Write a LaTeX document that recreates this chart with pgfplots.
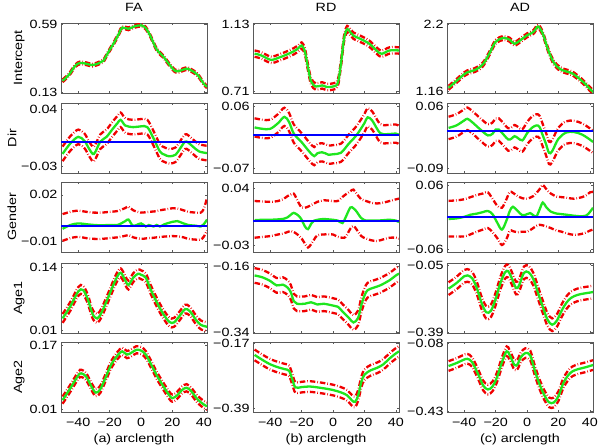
\documentclass[border=0pt]{standalone}
\usepackage{fontspec}
\setmainfont[FakeStretch=1.2]{Liberation Sans}
\usepackage{pgfplots}
\usepackage{pgfplotstable}
\pgfplotsset{compat=1.18}
\definecolor{mgreen}{RGB}{30,230,30}
\definecolor{mred}{RGB}{240,0,0}
\definecolor{mblue}{RGB}{0,0,255}

% ---------- data: x, estimate g, lower band lo, upper band hi ----------
\pgfplotstableread{
x g lo hi
-50 0.210 0.201 0.219
-46 0.250 0.241 0.259
-42 0.310 0.301 0.319
-39 0.330 0.321 0.339
-35 0.325 0.316 0.334
-31 0.316 0.307 0.325
-27 0.328 0.319 0.337
-24 0.345 0.336 0.354
-21 0.400 0.391 0.409
-17 0.470 0.461 0.479
-14 0.530 0.521 0.539
-12 0.568 0.559 0.577
-8 0.560 0.551 0.569
-4 0.577 0.568 0.586
0 0.583 0.574 0.592
3 0.565 0.556 0.574
6 0.510 0.501 0.519
10 0.420 0.411 0.429
14 0.375 0.366 0.384
18 0.320 0.311 0.329
22 0.275 0.266 0.284
26 0.282 0.273 0.291
29 0.292 0.283 0.301
32 0.280 0.271 0.289
36 0.250 0.241 0.259
40 0.190 0.181 0.199
42 0.170 0.161 0.179
}\Taa
\pgfplotstableread{
x g lo hi
-50 0.945 0.925 0.965
-46 0.935 0.915 0.955
-42 0.915 0.895 0.935
-39 0.905 0.885 0.925
-35 0.918 0.898 0.938
-30 0.937 0.917 0.957
-25 0.960 0.940 0.980
-22 0.980 0.960 1.000
-20 0.996 0.976 1.016
-18 0.960 0.940 0.980
-16 0.860 0.840 0.880
-14 0.770 0.750 0.790
-11 0.738 0.718 0.758
-7 0.745 0.725 0.765
-4 0.735 0.715 0.755
0 0.738 0.718 0.758
3 0.760 0.740 0.780
5 0.880 0.860 0.900
7 1.040 1.020 1.060
9 1.100 1.080 1.120
11 1.080 1.060 1.100
13 1.058 1.038 1.078
17 1.040 1.020 1.060
23 1.008 0.988 1.028
28 0.962 0.942 0.982
31 0.944 0.924 0.964
36 0.965 0.945 0.985
42 0.965 0.945 0.985
}\Tab
\pgfplotstableread{
x g lo hi
-50 1.220 1.190 1.250
-45 1.325 1.295 1.355
-40 1.430 1.400 1.460
-38 1.460 1.430 1.490
-35 1.480 1.450 1.510
-32 1.510 1.480 1.540
-28 1.585 1.555 1.615
-24 1.750 1.720 1.780
-20 1.930 1.900 1.960
-15 1.990 1.960 2.020
-11 1.960 1.930 1.990
-8 1.900 1.870 1.930
-4 1.960 1.930 1.990
0 2.030 2.000 2.060
4 2.080 2.050 2.110
7 2.165 2.135 2.195
10 2.055 2.025 2.085
13.5 1.800 1.770 1.830
17 1.610 1.580 1.640
21 1.510 1.480 1.540
25 1.472 1.442 1.502
29 1.440 1.410 1.470
35 1.326 1.296 1.356
41 1.180 1.150 1.210
42 1.165 1.135 1.195
}\Tac
\pgfplotstableread{
x g lo hi
-50 -0.015 -0.024 -0.006
-45 -0.002 -0.011 0.007
-40 0.006 -0.003 0.015
-36 0.001 -0.008 0.010
-33 -0.009 -0.018 0.000
-30 -0.015 -0.024 -0.006
-26 0.000 -0.009 0.009
-22 0.006 -0.003 0.015
-18 0.016 0.007 0.025
-15 0.023 0.014 0.032
-13 0.027 0.018 0.036
-10 0.020 0.011 0.029
-5 0.018 0.009 0.027
0 0.019 0.010 0.028
4 0.018 0.009 0.027
8 0.004 -0.005 0.013
12 -0.012 -0.021 -0.003
15 -0.016 -0.025 -0.007
18 -0.018 -0.027 -0.009
22 -0.016 -0.025 -0.007
25 -0.008 -0.017 0.001
28 0.000 -0.009 0.009
30 -0.001 -0.010 0.008
33 -0.006 -0.015 0.003
37 -0.012 -0.021 -0.003
42 -0.014 -0.023 -0.005
}\Tba
\pgfplotstableread{
x g lo hi
-50 0.016 -0.003 0.035
-45 0.013 -0.006 0.032
-40 0.013 -0.006 0.032
-35 0.025 0.006 0.044
-31 0.038 0.019 0.057
-28 0.027 0.008 0.046
-25 0.003 -0.016 0.022
-20 -0.015 -0.034 0.004
-15 -0.035 -0.054 -0.016
-12 -0.044 -0.063 -0.025
-10 -0.038 -0.057 -0.019
-7 -0.036 -0.055 -0.017
-5 -0.038 -0.057 -0.019
-3 -0.041 -0.060 -0.022
0 -0.040 -0.059 -0.021
5 -0.037 -0.056 -0.018
10 -0.018 -0.037 0.001
15 0.000 -0.019 0.019
20 0.025 0.006 0.044
22 0.037 0.018 0.056
25 0.030 0.011 0.049
30 0.004 -0.015 0.023
35 0.002 -0.017 0.021
40 0.003 -0.016 0.022
42 0.000 -0.019 0.019
}\Tbb
\pgfplotstableread{
x g lo hi
-50 0.008 -0.019 0.035
-45 0.014 -0.013 0.041
-40 0.026 -0.001 0.053
-38 0.030 0.003 0.057
-35 0.022 -0.005 0.049
-30 0.005 -0.022 0.032
-25 -0.010 -0.037 0.017
-22 -0.006 -0.033 0.021
-20 0.004 -0.023 0.031
-18 0.004 -0.023 0.031
-15 -0.008 -0.035 0.019
-12 -0.020 -0.047 0.007
-10 -0.018 -0.045 0.009
-8 -0.012 -0.039 0.015
-6 -0.016 -0.043 0.011
-3 -0.022 -0.049 0.005
0 -0.005 -0.032 0.022
3 0.008 -0.019 0.035
6 0.014 -0.013 0.041
8 0.010 -0.017 0.037
10 -0.010 -0.037 0.017
12 -0.030 -0.057 -0.003
14 -0.052 -0.079 -0.025
16 -0.048 -0.075 -0.021
20 -0.018 -0.045 0.009
25 -0.003 -0.030 0.024
30 -0.002 -0.029 0.025
35 -0.008 -0.035 0.019
40 -0.020 -0.047 0.007
42 -0.026 -0.053 0.001
}\Tbc
\pgfplotstableread{
x g lo hi
-50 -0.0020 -0.0098 0.0075
-45 0.0005 -0.0080 0.0090
-40 0.0015 -0.0072 0.0098
-35 0.0010 -0.0080 0.0090
-30 0.0005 -0.0085 0.0085
-25 0.0003 -0.0085 0.0085
-20 0.0005 -0.0080 0.0090
-15 0.0005 -0.0075 0.0095
-10 0.0030 -0.0065 0.0115
-8 0.0040 -0.0060 0.0124
-5 0.0000 -0.0075 0.0100
0 0.0015 -0.0085 0.0085
3 -0.0005 -0.0082 0.0088
5 0.0005 -0.0080 0.0090
8 -0.0005 -0.0078 0.0092
10 0.0005 -0.0075 0.0095
12 -0.0005 -0.0073 0.0100
15 0.0010 -0.0070 0.0105
20 0.0025 -0.0067 0.0113
23 0.0030 -0.0068 0.0112
27 0.0015 -0.0075 0.0100
30 0.0005 -0.0085 0.0090
35 0.0000 -0.0090 0.0085
38 -0.0005 -0.0090 0.0085
40 0.0010 -0.0070 0.0110
42 0.0040 -0.0030 0.0180
}\Tca
\pgfplotstableread{
x g lo hi
-50 0.0005 -0.021 0.024
-45 0.001 -0.020 0.0235
-40 0.001 -0.019 0.023
-35 0.0015 -0.017 0.024
-32 0.002 -0.016 0.026
-29 0.004 -0.014 0.030
-27 0.007 -0.0126 0.032
-25 0.0095 -0.014 0.033
-22 0.006 -0.018 0.022
-20 0.001 -0.022 0.016
-18 -0.007 -0.028 0.0157
-16 -0.0105 -0.033 0.017
-14 -0.004 -0.029 0.019
-12 0.000 -0.023 0.021
-10 0.001 -0.018 0.023
-6 0.002 -0.017 0.025
-3 0.0015 -0.0166 0.0245
0 0.001 -0.017 0.024
3 0.000 -0.020 0.024
6 -0.003 -0.021 0.029
8 0.004 -0.020 0.032
11 0.016 -0.010 0.036
13 0.015 -0.0066 0.038
15 0.011 -0.011 0.033
18 0.003 -0.019 0.026
21 0.000 -0.022 0.024
24 0.000 -0.024 0.022
28 0.000 -0.025 0.021
32 0.0005 -0.023 0.022
36 0.001 -0.021 0.024
40 0.000 -0.021 0.026
42 -0.002 -0.022 0.027
}\Tcb
\pgfplotstableread{
x g lo hi
-50 -0.003 -0.036 0.031
-45 -0.002 -0.036 0.032
-40 0.001 -0.036 0.034
-36 0.005 -0.032 0.038
-32 0.007 -0.027 0.042
-28 0.010 -0.023 0.045
-25 0.012 -0.020 0.047
-22 0.006 -0.028 0.035
-19 -0.010 -0.039 0.022
-16 -0.023 -0.052 0.018
-13 -0.005 -0.040 0.035
-11 0.012 -0.025 0.048
-9 0.020 -0.026 0.046
-6 0.012 -0.028 0.040
-3 0.004 -0.027 0.036
0 0.006 -0.027 0.035
2 0.008 -0.024 0.037
4 0.004 -0.020 0.040
6 0.002 -0.016 0.046
8 0.015 -0.014 0.053
10 0.028 -0.015 0.061
12 0.020 -0.017 0.054
15 0.011 -0.020 0.045
19 0.007 -0.025 0.039
22 0.006 -0.027 0.038
25 0.005 -0.030 0.037
30 0.003 -0.033 0.035
35 0.002 -0.031 0.038
38 0.004 -0.028 0.042
40 0.010 -0.025 0.047
42 0.018 -0.023 0.048
}\Tcc
\pgfplotstableread{
x g lo hi
-50 0.035 0.026 0.044
-45 0.060 0.051 0.069
-40 0.090 0.081 0.099
-37 0.093 0.084 0.102
-34 0.075 0.066 0.084
-31 0.045 0.036 0.054
-28 0.035 0.026 0.044
-25 0.048 0.039 0.057
-20 0.085 0.076 0.094
-16 0.115 0.106 0.124
-13 0.128 0.119 0.137
-10 0.112 0.103 0.121
-8 0.103 0.094 0.112
-5 0.118 0.109 0.127
-2 0.126 0.117 0.135
0 0.124 0.115 0.133
3 0.118 0.109 0.127
6 0.095 0.086 0.104
10 0.068 0.059 0.077
14 0.045 0.036 0.054
18 0.028 0.019 0.037
21 0.027 0.018 0.036
25 0.042 0.033 0.051
28 0.054 0.045 0.063
31 0.050 0.041 0.059
35 0.032 0.023 0.041
38 0.022 0.013 0.031
42 0.018 0.009 0.027
}\Tda
\pgfplotstableread{
x g lo hi
-50 -0.185 -0.205 -0.165
-45 -0.190 -0.210 -0.170
-40 -0.200 -0.220 -0.180
-36 -0.212 -0.232 -0.192
-32 -0.210 -0.230 -0.190
-29 -0.218 -0.238 -0.198
-27 -0.230 -0.250 -0.210
-25 -0.255 -0.275 -0.235
-23 -0.262 -0.282 -0.242
-18 -0.262 -0.282 -0.242
-14 -0.258 -0.278 -0.238
-10 -0.264 -0.284 -0.244
-6 -0.262 -0.282 -0.242
0 -0.267 -0.287 -0.247
3 -0.270 -0.290 -0.250
6 -0.283 -0.303 -0.263
10 -0.300 -0.320 -0.280
13 -0.313 -0.333 -0.293
16 -0.300 -0.320 -0.280
18 -0.265 -0.285 -0.245
20 -0.240 -0.260 -0.220
22 -0.225 -0.245 -0.205
26 -0.218 -0.238 -0.198
30 -0.212 -0.232 -0.192
36 -0.198 -0.218 -0.178
40 -0.185 -0.205 -0.165
42 -0.180 -0.200 -0.160
}\Tdb
\pgfplotstableread{
x g lo hi
-50 -0.168 -0.200 -0.136
-45 -0.140 -0.172 -0.108
-40 -0.105 -0.137 -0.073
-38 -0.101 -0.133 -0.069
-35 -0.115 -0.147 -0.083
-32 -0.165 -0.197 -0.133
-29 -0.240 -0.272 -0.208
-26 -0.288 -0.320 -0.256
-23 -0.280 -0.312 -0.248
-20 -0.220 -0.252 -0.188
-17 -0.140 -0.172 -0.108
-14 -0.085 -0.117 -0.053
-12 -0.080 -0.112 -0.048
-10 -0.110 -0.142 -0.078
-7 -0.165 -0.197 -0.133
-5 -0.150 -0.182 -0.118
-2 -0.088 -0.120 -0.056
1 -0.085 -0.117 -0.053
4 -0.120 -0.152 -0.088
7 -0.190 -0.222 -0.158
10 -0.260 -0.292 -0.228
13 -0.325 -0.357 -0.293
16 -0.351 -0.383 -0.319
19 -0.330 -0.362 -0.298
22 -0.280 -0.312 -0.248
25 -0.240 -0.272 -0.208
28 -0.215 -0.247 -0.183
32 -0.200 -0.232 -0.168
36 -0.193 -0.225 -0.161
40 -0.188 -0.220 -0.156
42 -0.185 -0.217 -0.153
}\Tdc
\pgfplotstableread{
x g lo hi
-50 0.033 0.024 0.042
-45 0.063 0.054 0.072
-40 0.095 0.086 0.104
-38 0.100 0.091 0.109
-35 0.092 0.083 0.101
-32 0.070 0.061 0.079
-29 0.052 0.043 0.061
-26 0.060 0.051 0.069
-22 0.095 0.086 0.104
-19 0.122 0.113 0.131
-15 0.145 0.136 0.154
-12 0.155 0.146 0.164
-9 0.147 0.138 0.156
-6 0.152 0.143 0.161
-3 0.159 0.150 0.168
0 0.157 0.148 0.166
3 0.147 0.138 0.156
7 0.118 0.109 0.127
10 0.095 0.086 0.104
14 0.069 0.060 0.078
18 0.045 0.036 0.054
20 0.038 0.029 0.047
23 0.045 0.036 0.054
26 0.058 0.049 0.067
29 0.064 0.055 0.073
32 0.055 0.046 0.064
36 0.035 0.026 0.044
40 0.022 0.013 0.031
42 0.018 0.009 0.027
}\Tea
\pgfplotstableread{
x g lo hi
-50 -0.208 -0.226 -0.190
-45 -0.225 -0.243 -0.207
-40 -0.240 -0.258 -0.222
-35 -0.250 -0.268 -0.232
-31 -0.256 -0.274 -0.238
-28 -0.262 -0.280 -0.244
-26 -0.290 -0.308 -0.272
-24 -0.318 -0.336 -0.300
-20 -0.317 -0.335 -0.299
-15 -0.315 -0.333 -0.297
-10 -0.318 -0.336 -0.300
-5 -0.322 -0.340 -0.304
0 -0.327 -0.345 -0.309
5 -0.335 -0.353 -0.317
9 -0.345 -0.363 -0.327
12 -0.362 -0.380 -0.344
14 -0.367 -0.385 -0.349
16 -0.345 -0.363 -0.327
18 -0.300 -0.318 -0.282
20 -0.275 -0.293 -0.257
24 -0.260 -0.278 -0.242
28 -0.252 -0.270 -0.234
32 -0.240 -0.258 -0.222
36 -0.220 -0.238 -0.202
40 -0.203 -0.221 -0.185
42 -0.196 -0.214 -0.178
}\Teb
\pgfplotstableread{
x g lo hi
-50 -0.195 -0.220 -0.170
-45 -0.180 -0.205 -0.155
-41 -0.165 -0.190 -0.140
-38 -0.158 -0.183 -0.133
-35 -0.175 -0.200 -0.150
-31 -0.240 -0.265 -0.215
-28 -0.295 -0.320 -0.270
-25 -0.316 -0.341 -0.291
-22 -0.300 -0.325 -0.275
-19 -0.250 -0.275 -0.225
-16 -0.175 -0.200 -0.150
-13 -0.119 -0.144 -0.094
-11 -0.140 -0.165 -0.115
-8 -0.190 -0.215 -0.165
-6 -0.185 -0.210 -0.160
-4 -0.150 -0.175 -0.125
-1 -0.128 -0.153 -0.103
2 -0.140 -0.165 -0.115
5 -0.220 -0.245 -0.195
8 -0.290 -0.315 -0.265
11 -0.345 -0.370 -0.320
14 -0.382 -0.407 -0.357
17 -0.383 -0.408 -0.358
20 -0.350 -0.375 -0.325
23 -0.285 -0.310 -0.260
26 -0.245 -0.270 -0.220
29 -0.222 -0.247 -0.197
33 -0.210 -0.235 -0.185
37 -0.202 -0.227 -0.177
42 -0.190 -0.215 -0.165
}\Tec

\pgfplotsset{
  every axis title/.style={at={(0.5,1)},anchor=base,yshift=12bp,font=\fontsize{12}{14}\selectfont},
  panel/.style={width=146bp,height=70bp,scale only axis,anchor=north west,
    xmin=-51,xmax=42,xtick={-40,-20,0,20,40},xticklabels={},
    scaled y ticks=false,scaled x ticks=false,
    tick align=inside,major tick length=2bp,
    axis line style={draw=black!65,line width=0.7bp},
    every tick/.style={draw=black!65,line width=0.5bp},
    tick label style={font=\fontsize{12}{14}\selectfont},
    xticklabel style={yshift=-3bp},
    label style={font=\fontsize{12}{14}\selectfont},
    ylabel style={yshift=-2bp}},
  bottom/.style={xticklabels={−40,−20,0,20,40}},
  est/.style={mgreen,line width=2.3bp,smooth,tension=0.55},
  band/.style={mred,line width=2.3bp,smooth,tension=0.55,dash pattern=on 5.5bp off 2bp on 0.6bp off 2bp},
  zero/.style={mblue,line width=2bp}
}

\begin{document}
\begin{tikzpicture}
\path[use as bounding box] (0,0) rectangle (600bp,-446bp);
% ---------------- row 1: Intercept ----------------
\begin{axis}[panel,at={(61bp,-23bp)},ymin=0.128,ymax=0.599,ytick={0.13,0.59},yticklabels={0.13,0.59},ylabel={Intercept},title={FA}]
\addplot[band] table[x=x,y=lo]{\Taa};
\addplot[band] table[x=x,y=hi]{\Taa};
\addplot[est] table[x=x,y=g]{\Taa};
\end{axis}
\begin{axis}[panel,at={(253bp,-23bp)},ymin=0.697,ymax=1.138,ytick={0.71,1.13},yticklabels={0.71,1.13},title={RD}]
\addplot[band] table[x=x,y=lo]{\Tab};
\addplot[band] table[x=x,y=hi]{\Tab};
\addplot[est] table[x=x,y=g]{\Tab};
\end{axis}
\begin{axis}[panel,at={(447bp,-23bp)},ymin=1.14,ymax=2.22,ytick={1.16,2.2},yticklabels={1.16,2.2},title={AD}]
\addplot[band] table[x=x,y=lo]{\Tac};
\addplot[band] table[x=x,y=hi]{\Tac};
\addplot[est] table[x=x,y=g]{\Tac};
\end{axis}
% ---------------- row 2: Dir ----------------
\begin{axis}[panel,at={(61bp,-103bp)},ymin=-0.0386,ymax=0.0478,ytick={-0.03,0.04},yticklabels={−0.03,0.04},ylabel={Dir}]
\addplot[band] table[x=x,y=lo]{\Tba};
\addplot[band] table[x=x,y=hi]{\Tba};
\addplot[est] table[x=x,y=g]{\Tba};
\addplot[zero] coordinates {(-51,0) (42,0)};
\end{axis}
\begin{axis}[panel,at={(253bp,-103bp)},ymin=-0.0792,ymax=0.0669,ytick={-0.07,0.06},yticklabels={−0.07,0.06}]
\addplot[band] table[x=x,y=lo]{\Tbb};
\addplot[band] table[x=x,y=hi]{\Tbb};
\addplot[est] table[x=x,y=g]{\Tbb};
\addplot[zero] coordinates {(-51,0) (42,0)};
\end{axis}
\begin{axis}[panel,at={(447bp,-103bp)},ymin=-0.1006,ymax=0.068,ytick={-0.09,0.06},yticklabels={−0.09,0.06}]
\addplot[band] table[x=x,y=lo]{\Tbc};
\addplot[band] table[x=x,y=hi]{\Tbc};
\addplot[est] table[x=x,y=g]{\Tbc};
\addplot[zero] coordinates {(-51,0) (42,0)};
\end{axis}
% ---------------- row 3: Gender ----------------
\begin{axis}[panel,at={(61bp,-182bp)},ymin=-0.017,ymax=0.0283,ytick={-0.01,0.02},yticklabels={−0.01,0.02},ylabel={Gender}]
\addplot[band] table[x=x,y=lo]{\Tca};
\addplot[band] table[x=x,y=hi]{\Tca};
\addplot[est] table[x=x,y=g]{\Tca};
\addplot[zero] coordinates {(-51,0) (42,0)};
\end{axis}
\begin{axis}[panel,at={(253bp,-182bp)},ymin=-0.0385,ymax=0.0473,ytick={-0.03,0.04},yticklabels={−0.03,0.04}]
\addplot[band] table[x=x,y=lo]{\Tcb};
\addplot[band] table[x=x,y=hi]{\Tcb};
\addplot[est] table[x=x,y=g]{\Tcb};
\addplot[zero] coordinates {(-51,0) (42,0)};
\end{axis}
\begin{axis}[panel,at={(447bp,-182bp)},ymin=-0.0652,ymax=0.0665,ytick={-0.06,0.06},yticklabels={−0.06,0.06}]
\addplot[band] table[x=x,y=lo]{\Tcc};
\addplot[band] table[x=x,y=hi]{\Tcc};
\addplot[est] table[x=x,y=g]{\Tcc};
\addplot[zero] coordinates {(-51,0) (42,0)};
\end{axis}
% ---------------- row 4: Age1 ----------------
\begin{axis}[panel,at={(61bp,-263bp)},ymin=0.0053,ymax=0.148,ytick={0.01,0.14},yticklabels={0.01,0.14},ylabel={Age1}]
\addplot[band] table[x=x,y=lo]{\Tda};
\addplot[band] table[x=x,y=hi]{\Tda};
\addplot[est] table[x=x,y=g]{\Tda};
\end{axis}
\begin{axis}[panel,at={(253bp,-263bp)},ymin=-0.3417,ymax=-0.151,ytick={-0.34,-0.16},yticklabels={−0.34,−0.16}]
\addplot[band] table[x=x,y=lo]{\Tdb};
\addplot[band] table[x=x,y=hi]{\Tdb};
\addplot[est] table[x=x,y=g]{\Tdb};
\end{axis}
\begin{axis}[panel,at={(447bp,-263bp)},ymin=-0.393,ymax=-0.038,ytick={-0.39,-0.05},yticklabels={−0.39,−0.05}]
\addplot[band] table[x=x,y=lo]{\Tdc};
\addplot[band] table[x=x,y=hi]{\Tdc};
\addplot[est] table[x=x,y=g]{\Tdc};
\end{axis}
% ---------------- row 5: Age2 ----------------
\begin{axis}[panel,bottom,at={(61bp,-342bp)},ymin=0.0033,ymax=0.1785,ytick={0.01,0.17},yticklabels={0.01,0.17},ylabel={Age2},xlabel={(a) arclength}]
\addplot[band] table[x=x,y=lo]{\Tea};
\addplot[band] table[x=x,y=hi]{\Tea};
\addplot[est] table[x=x,y=g]{\Tea};
\end{axis}
\begin{axis}[panel,bottom,at={(253bp,-342bp)},ymin=-0.4014,ymax=-0.1643,ytick={-0.39,-0.17},yticklabels={−0.39,−0.17},xlabel={(b) arclength}]
\addplot[band] table[x=x,y=lo]{\Teb};
\addplot[band] table[x=x,y=hi]{\Teb};
\addplot[est] table[x=x,y=g]{\Teb};
\end{axis}
\begin{axis}[panel,bottom,at={(447bp,-342bp)},ymin=-0.432,ymax=-0.0713,ytick={-0.43,-0.08},yticklabels={−0.43,−0.08},xlabel={(c) arclength}]
\addplot[band] table[x=x,y=lo]{\Tec};
\addplot[band] table[x=x,y=hi]{\Tec};
\addplot[est] table[x=x,y=g]{\Tec};
\end{axis}
\end{tikzpicture}
\end{document}
